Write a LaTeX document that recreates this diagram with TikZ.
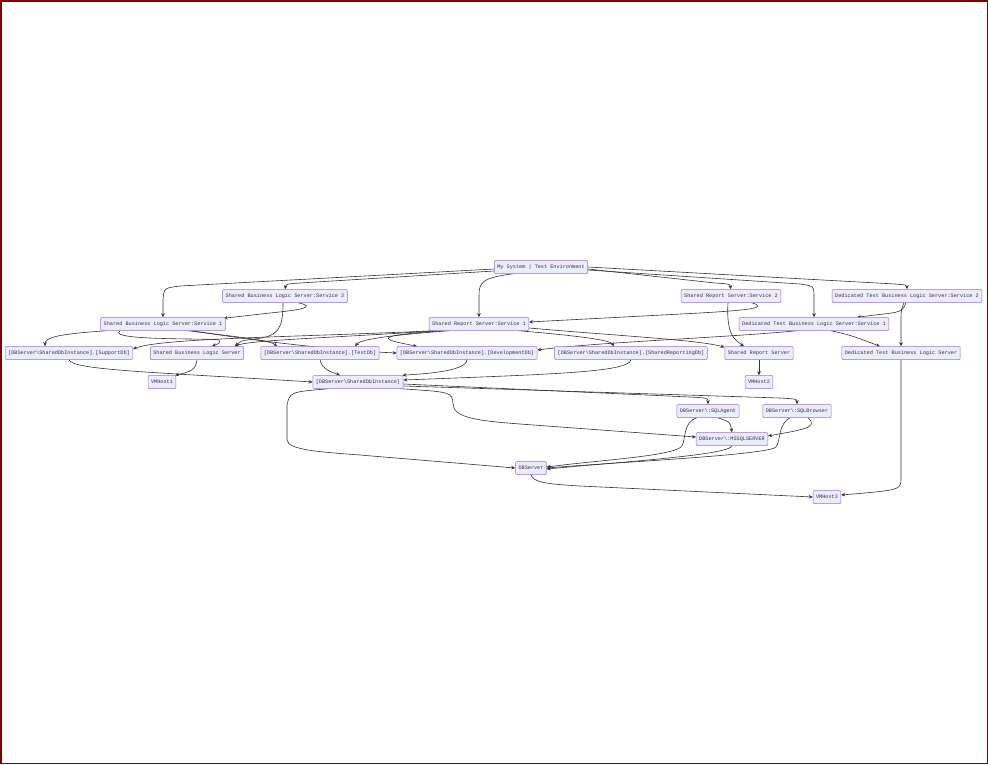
\documentclass[tikz,border=0pt]{standalone}
\usepackage{fontspec}
\setmonofont{Liberation Mono}
\usetikzlibrary{arrows.meta,backgrounds}
\definecolor{boxfill}{HTML}{ECECFF}
\definecolor{boxline}{HTML}{9370DB}
\definecolor{wire}{HTML}{333333}
\definecolor{framered}{HTML}{800000}
\begin{document}
\begin{tikzpicture}[x=1pt, y=-1pt,
    box/.style={draw=boxline, fill=boxfill, rounded corners=1pt, line width=0.5pt,
        font=\ttfamily\fontsize{5.2}{6}\selectfont, text=wire,
        inner xsep=3pt, inner ysep=0pt, minimum height=13pt},
    edge/.style={draw=wire, line width=0.6pt, -{Stealth[length=4pt,width=3.5pt]}}]
    \useasboundingbox (0,0) rectangle (988,764);
    \draw[framered, line width=1.5pt] (0.75,0.75) rectangle (987.25,763.25);

    % environment and services
    \node [box] (ms) at (541,267) {My System | Test Environment};
    \node [box] (sbl2) at (285,296) {Shared Business Logic Server:Service 2};
    \node [box] (srs2) at (731,296) {Shared Report Server:Service 2};
    \node [box] (dtbl2) at (907,296) {Dedicated Test Business Logic Server:Service 2};
    \node [box] (sbl1) at (163,324) {Shared Business Logic Server:Service 1};
    \node [box] (srs1) at (479,324) {Shared Report Server:Service 1};
    \node [box] (dtbl1) at (814,324) {Dedicated Test Business Logic Server:Service 1};
    % databases and servers
    \node [box] (supportdb) at (69,353) {[DBServer\textbackslash SharedDbInstance].[SupportDb]};
    \node [box] (sbls) at (197,353) {Shared Business Logic Server};
    \node [box] (testdb) at (320,353) {[DBServer\textbackslash SharedDbInstance].[TestDb]};
    \node [box] (devdb) at (467,353) {[DBServer\textbackslash SharedDbInstance].[DevelopmentDb]};
    \node [box] (reportdb) at (631,353) {[DBServer\textbackslash SharedDbInstance].[SharedReportingDb]};
    \node [box] (srs) at (759,353) {Shared Report Server};
    \node [box] (dtbls) at (901,353) {Dedicated Test Business Logic Server};
    \node [box] (vm1) at (162,382) {VMHost1};
    \node [box] (sdi) at (358,382) {[DBServer\textbackslash SharedDbInstance]};
    \node [box] (vm2) at (759,382) {VMHost2};
    \node [box] (sqlagent) at (708,411) {DBServer\textbackslash:SQLAgent};
    \node [box] (sqlbrowser) at (797,411) {DBServer\textbackslash:SQLBrowser};
    \node [box] (mssql) at (732,439) {DBServer\textbackslash:MSSQLSERVER};
    \node [box] (dbserver) at (531,468) {DBServer};
    \node [box] (vm3) at (827,497) {VMHost3};

    \begin{scope}[on background layer]
    % environment -> services
    \draw[edge] ([yshift=-2pt]ms.west) -- (180,286) .. controls (164,288) .. (163,300) -- (sbl1.north);
    \draw[edge] ([yshift=-4pt]ms.west) -- (300,283) .. controls (286,284) .. (sbl2.north);
    \draw[edge] ([xshift=-28pt]ms.south) .. controls (482,278) and (479,282) .. (479,296) -- (srs1.north);
    \draw[edge] ([yshift=-2pt]ms.east) -- (715,283) .. controls (730,284) .. (srs2.north);
    \draw[edge] ([yshift=-3pt]ms.east) -- (800,284) .. controls (814,286) .. (814,298) -- (dtbl1.north);
    \draw[edge] (ms.east) -- (895,284) .. controls (907,285) .. (dtbl2.north);
    % service 2 -> service 1 and hosts
    \draw[edge] ([xshift=13pt]sbl2.south) .. controls (318,307) and (300,310) .. (270,313) -- ([xshift=-2pt,yshift=-1pt]sbl1.north east);
    \draw[edge] ([xshift=-2pt]sbl2.south) .. controls (283,330) and (278,336) .. (255,339) .. controls (240,341) .. ([xshift=38pt]sbls.north);
    \draw[edge] ([xshift=21pt]srs2.south) .. controls (768,308) and (750,310) .. (700,313) -- ([yshift=2pt]srs1.east);
    \draw[edge] ([xshift=-3pt]srs2.south) .. controls (726,335) and (735,340) .. ([xshift=-15pt]srs.north);
    \draw[edge] ([xshift=-1pt]dtbl2.south) .. controls (902,312) .. (875,315) -- ([xshift=43pt]dtbl1.north);
    \draw[edge] ([xshift=-3pt]dtbl2.south) .. controls (901,310) .. (901,322) -- (dtbls.north);
    % service 1 -> databases and hosts
    \draw[edge] ([xshift=-57pt]sbl1.south) .. controls (60,334) and (45,337) .. ([xshift=-24pt]supportdb.north);
    \draw[edge] ([xshift=-43pt]sbl1.south) .. controls (105,341) and (215,338) .. (219,340) .. controls (220,343) .. ([xshift=15pt]sbls.north);
    \draw[edge] ([xshift=25pt]sbl1.south) .. controls (230,336) and (270,340) .. ([xshift=-43pt]testdb.north);
    \draw[edge] ([xshift=29pt]sbl1.south) .. controls (250,340) and (330,350) .. (devdb.west);
    \draw[edge] ([xshift=-45pt]srs1.south) .. controls (300,337) and (160,338) .. ([yshift=4pt]supportdb.east);
    \draw[edge] ([xshift=-42pt]srs1.south) .. controls (330,338) and (250,340) .. ([xshift=38pt]sbls.north);
    \draw[edge] ([xshift=-30pt]srs1.south) .. controls (380,336) and (360,340) .. ([xshift=35pt]testdb.north);
    \draw[edge] ([xshift=-36pt]srs1.south) .. controls (365,336) and (385,340) .. ([xshift=-50pt]devdb.north);
    \draw[edge] ([xshift=40pt]srs1.south) .. controls (580,336) and (610,340) .. ([xshift=-17pt]reportdb.north);
    \draw[edge] ([yshift=-4pt]srs1.east) .. controls (620,336) and (700,340) .. ([yshift=-1pt]srs.north west);
    \draw[edge] ([xshift=-17pt]dtbl1.south) .. controls (720,338) and (600,342) .. ([yshift=3pt]devdb.east);
    \draw[edge] ([xshift=17pt]dtbl1.south) .. controls (850,335) .. ([xshift=-21pt]dtbls.north);
    % databases -> instance, servers -> hosts
    \draw[edge] (supportdb.south) .. controls (72,370) and (150,372) .. (sdi.west);
    \draw[edge] (sbls.south) .. controls (196,370) and (190,372) .. ([xshift=13pt]vm1.north);
    \draw[edge] (testdb.south) .. controls (322,370) and (332,372) .. ([xshift=-18pt]sdi.north);
    \draw[edge] (devdb.south) .. controls (466,372) and (420,374) .. ([xshift=-1pt]sdi.north east);
    \draw[edge] (reportdb.south) .. controls (628,372) and (560,374) .. ([yshift=2pt]sdi.east);
    \draw[edge] (srs.south) -- (vm2.north);
    \draw[edge] (dtbls.south) -- (901,478) .. controls (901,490) .. ([yshift=2pt]vm3.east);
    % instance -> sql services -> server
    \draw[edge] ([yshift=-2pt]sdi.east) -- (690,397) .. controls (708,398) .. (sqlagent.north);
    \draw[edge] ([yshift=-4pt]sdi.east) -- (780,398) .. controls (797,399) .. (sqlbrowser.north);
    \draw[edge] ([xshift=42pt]sdi.south) .. controls (452,392) .. (453,404) .. controls (453,418) and (480,421) .. (520,424) -- ([yshift=2pt]mssql.west);
    \draw[edge] ([xshift=-30pt]sdi.south) .. controls (290,392) .. (287,405) -- (287,440) .. controls (288,450) and (320,452) .. (360,455) -- (dbserver.west);
    \draw[edge] ([xshift=10pt]sqlagent.south) .. controls (730,422) .. (mssql.north);
    \draw[edge] ([xshift=-11pt]sqlagent.south) .. controls (683,422) and (686,438) .. (682,446) .. controls (675,456) and (600,460) .. ([yshift=1pt]dbserver.east);
    \draw[edge] ([xshift=11pt]sqlbrowser.south) .. controls (820,428) and (800,430) .. ([yshift=3pt]mssql.east);
    \draw[edge] ([xshift=-7pt]sqlbrowser.south) .. controls (778,424) and (781,440) .. (776,447) .. controls (768,455) and (620,462) .. (dbserver.east);
    \draw[edge] (mssql.south) .. controls (730,455) and (620,462) .. ([yshift=-1pt]dbserver.east);
    \draw[edge] (dbserver.south) .. controls (533,482) and (545,484) .. (580,486) -- (vm3.west);
    \end{scope}
\end{tikzpicture}
\end{document}
